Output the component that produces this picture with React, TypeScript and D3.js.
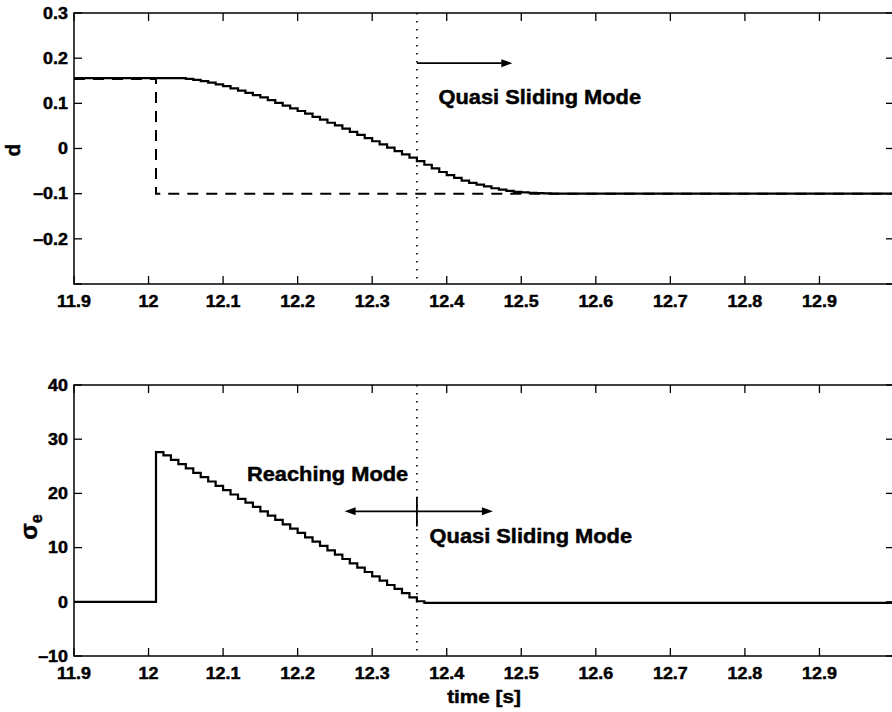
import React from "react";
import * as d3 from "d3";

// Disturbance estimate d(t): sampled output (stair-step), 0.01 s sample period
const dTimes = [
  11.9, 12.04, 12.05, 12.06, 12.07, 12.08, 12.09, 12.1, 12.11, 12.12, 12.13, 12.14,
  12.15, 12.16, 12.17, 12.18, 12.19, 12.2, 12.21, 12.22, 12.23, 12.24, 12.25, 12.26,
  12.27, 12.28, 12.29, 12.3, 12.31, 12.32, 12.33, 12.34, 12.35, 12.36, 12.37, 12.38,
  12.39, 12.4, 12.41, 12.42, 12.43, 12.44, 12.45, 12.46, 12.47, 12.48, 12.49, 12.5,
  12.51, 12.52, 12.53, 12.54, 13.0,
];
const dValues = [
  0.156, 0.156, 0.154, 0.152, 0.149, 0.146, 0.142, 0.138, 0.133, 0.128, 0.123, 0.118,
  0.113, 0.107, 0.101, 0.095, 0.089, 0.083, 0.077, 0.07, 0.064, 0.057, 0.051, 0.044,
  0.037, 0.03, 0.023, 0.016, 0.009, 0.002, -0.006, -0.013, -0.02, -0.028, -0.036, -0.044,
  -0.052, -0.059, -0.065, -0.071, -0.076, -0.08, -0.084, -0.088, -0.091, -0.094, -0.096, -0.097,
  -0.098, -0.099, -0.0995, -0.1, -0.1,
];

// True disturbance (dashed): step change at t = 12.01 s
const dRefTimes = [11.9, 12.01, 13.0];
const dRefValues = [0.154, -0.1, -0.1];

// Sliding variable sigma_e
const sigmaTimes = [
  11.9, 12.01, 12.02, 12.03, 12.04, 12.05, 12.06, 12.07, 12.08, 12.09, 12.1, 12.11,
  12.12, 12.13, 12.14, 12.15, 12.16, 12.17, 12.18, 12.19, 12.2, 12.21, 12.22, 12.23,
  12.24, 12.25, 12.26, 12.27, 12.28, 12.29, 12.3, 12.31, 12.32, 12.33, 12.34, 12.35,
  12.36, 12.37, 13.0,
];
const sigmaValues = [
  0, 27.6, 27.0, 26.2, 25.4, 24.6, 23.8, 23.0, 22.2, 21.4, 20.6, 19.8,
  19.0, 18.3, 17.5, 16.7, 15.9, 15.1, 14.3, 13.5, 12.7, 11.9, 11.1, 10.3,
  9.5, 8.7, 7.9, 7.1, 6.3, 5.5, 4.7, 3.9, 3.1, 2.4, 1.6, 0.8,
  0.1, -0.2, -0.2,
];

// Instant the system enters the quasi sliding mode
const switchTime = 12.36;

// Axis ticks and labels
const xTicks = [11.9, 12.0, 12.1, 12.2, 12.3, 12.4, 12.5, 12.6, 12.7, 12.8, 12.9, 13.0];
const xTickLabels = ["11.9", "12", "12.1", "12.2", "12.3", "12.4", "12.5", "12.6", "12.7", "12.8", "12.9", ""];
const dTicks = [0.3, 0.2, 0.1, 0, -0.1, -0.2, -0.3];
const dTickLabels = ["0.3", "0.2", "0.1", "0", "\u20130.1", "\u20130.2", ""];
const sigmaTicks = [40, 30, 20, 10, 0, -10];
const sigmaTickLabels = ["40", "30", "20", "10", "0", "\u201310"];

const FONT = '"Liberation Sans", Arial, Helvetica, sans-serif';
const SX = 1.12; // horizontal widening of the printed lettering

type STProps = {
  x: number;
  y: number;
  size: number;
  anchor?: "start" | "middle" | "end";
  dy?: string;
  children: React.ReactNode;
};

function SText({ x, y, size, anchor = "start", dy, children }: STProps) {
  return (
    <g transform={`translate(${x},${y}) scale(${SX},1)`}>
      <text
        x={0}
        y={0}
        dy={dy}
        textAnchor={anchor}
        fontFamily={FONT}
        fontWeight="bold"
        fontSize={size}
        fill="#000"
        stroke="#000"
        strokeWidth={0.45}
      >
        {children}
      </text>
    </g>
  );
}

type PanelProps = {
  y: d3.ScaleLinear<number, number>;
  x: d3.ScaleLinear<number, number>;
  yTicks: number[];
  yLabels: string[];
  children?: React.ReactNode;
};

function Panel({ x, y, yTicks, yLabels, children }: PanelProps) {
  const [x0, x1] = x.range();
  const [yb, yt] = y.range();
  const tl = 8;
  return (
    <g>
      {children}
      <rect x={x0} y={yt} width={x1 - x0} height={yb - yt} fill="none" stroke="#000" strokeWidth={1.5} />
      {xTicks.map((t, i) => (
        <g key={`xt${i}`}>
          <line x1={x(t)} x2={x(t)} y1={yb} y2={yb - tl} stroke="#000" strokeWidth={1.3} />
          <line x1={x(t)} x2={x(t)} y1={yt} y2={yt + tl} stroke="#000" strokeWidth={1.3} />
          {xTickLabels[i] && (
            <SText x={x(t)} y={yb + 23} size={16} anchor="middle">
              {xTickLabels[i]}
            </SText>
          )}
        </g>
      ))}
      {yTicks.map((v, i) => (
        <g key={`yt${i}`}>
          <line x1={x0} x2={x0 + tl} y1={y(v)} y2={y(v)} stroke="#000" strokeWidth={1.3} />
          <line x1={x1} x2={x1 - tl} y1={y(v)} y2={y(v)} stroke="#000" strokeWidth={1.3} />
          {yLabels[i] && (
            <SText x={x0 - 6} y={y(v)} size={16} anchor="end" dy="0.36em">
              {yLabels[i]}
            </SText>
          )}
        </g>
      ))}
    </g>
  );
}

function Arrowhead({ x, y, dir }: { x: number; y: number; dir: 1 | -1 }) {
  const len = 11;
  const hw = 4;
  return (
    <path
      d={`M${x},${y} L${x - dir * len},${y - hw} L${x - dir * len},${y + hw} Z`}
      fill="#000"
    />
  );
}

export default function App() {
  const W = 892;
  const H = 712;

  const x = d3.scaleLinear().domain([11.9, 13.0]).range([74, 894]);
  const yD = d3.scaleLinear().domain([-0.3, 0.3]).range([284, 13]);
  const yS = d3.scaleLinear().domain([-10, 40]).range([656, 385]);

  const stepLine = (ys: d3.ScaleLinear<number, number>) =>
    d3
      .line<[number, number]>()
      .x((p) => x(p[0]))
      .y((p) => ys(p[1]))
      .curve(d3.curveStepAfter);

  const dPath = stepLine(yD)(dTimes.map((t, i) => [t, dValues[i]]))!;
  const dRefPath = stepLine(yD)(dRefTimes.map((t, i) => [t, dRefValues[i]]))!;
  const sigmaPath = stepLine(yS)(sigmaTimes.map((t, i) => [t, sigmaValues[i]]))!;

  const xs = x(switchTime);

  return (
    <svg
      width={W}
      height={H}
      style={{ position: "absolute", left: 0, top: 0, background: "#fff" }}
    >
      <rect x={0} y={0} width={W} height={H} fill="#fff" />

      {/* Upper panel: disturbance estimate */}
      <Panel x={x} y={yD} yTicks={dTicks} yLabels={dTickLabels}>
        <line x1={xs} x2={xs} y1={yD(0.3)} y2={yD(-0.3)} stroke="#000" strokeWidth={1.6} strokeDasharray="1.6,6.4" />
        <path d={dRefPath} fill="none" stroke="#000" strokeWidth={2} strokeDasharray="11,8" />
        <path d={dPath} fill="none" stroke="#000" strokeWidth={2.2} strokeLinejoin="miter" />
        <line x1={xs} x2={x(12.474)} y1={yD(0.189)} y2={yD(0.189)} stroke="#000" strokeWidth={1.6} />
        <Arrowhead x={x(12.488)} y={yD(0.189)} dir={1} />
        <SText x={x(12.389)} y={yD(0.099)} size={19.5}>
          Quasi Sliding Mode
        </SText>
      </Panel>

      {/* Lower panel: sliding variable */}
      <Panel x={x} y={yS} yTicks={sigmaTicks} yLabels={sigmaTickLabels}>
        <line x1={xs} x2={xs} y1={yS(40)} y2={yS(-10)} stroke="#000" strokeWidth={1.6} strokeDasharray="1.6,6.4" />
        <path d={sigmaPath} fill="none" stroke="#000" strokeWidth={2.2} strokeLinejoin="miter" />
        <line x1={x(12.277)} x2={x(12.448)} y1={yS(16.7)} y2={yS(16.7)} stroke="#000" strokeWidth={1.8} />
        <Arrowhead x={x(12.263)} y={yS(16.7)} dir={-1} />
        <Arrowhead x={x(12.462)} y={yS(16.7)} dir={1} />
        <line x1={xs} x2={xs} y1={yS(19.4)} y2={yS(13.9)} stroke="#000" strokeWidth={1.8} />
        <SText x={x(12.132)} y={yS(22.2)} size={19.5}>
          Reaching Mode
        </SText>
        <SText x={x(12.377)} y={yS(10.8)} size={19.5}>
          Quasi Sliding Mode
        </SText>
      </Panel>

      {/* Axis titles */}
      <g transform="translate(20,150) rotate(-90)">
        <text textAnchor="middle" fontFamily={FONT} fontWeight="bold" fontSize={21} fill="#000" stroke="#000" strokeWidth={0.45}>
          d
        </text>
      </g>
      <g transform="translate(37,527) rotate(-90)">
        <text textAnchor="middle" fontFamily={FONT} fontWeight="bold" fontSize={24} fill="#000" stroke="#000" strokeWidth={0.4}>
          {"\u03c3"}
          <tspan fontSize={16} dy={5}>
            e
          </tspan>
        </text>
      </g>
      <SText x={484} y={703} size={18.5} anchor="middle">
        time [s]
      </SText>
    </svg>
  );
}
